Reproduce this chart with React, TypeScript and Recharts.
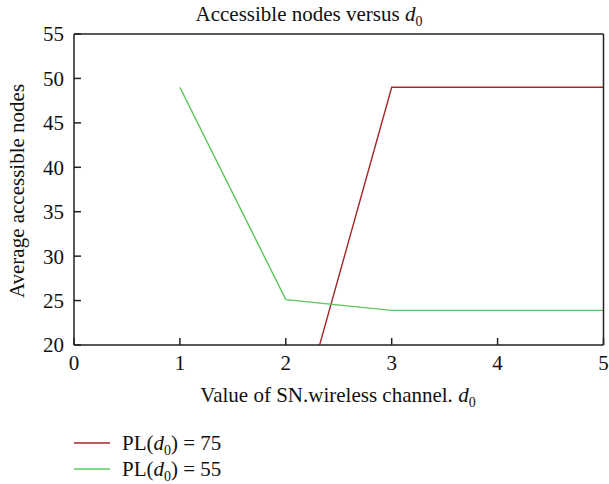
import React from 'react';
import { LineChart, Line, XAxis, YAxis } from 'recharts';

const xValues = [0, 1, 2, 3, 4, 5];
const pl75 = [null, null, 6.4, 49, 49, 49];
const pl55 = [null, 49, 25.1, 23.9, 23.9, 23.9];
const xTicks = [0, 1, 2, 3, 4, 5];
const yTicks = [20, 25, 30, 35, 40, 45, 50, 55];
const seriesNames = ['PL (d0) = 75', 'PL (d0) = 55'];
const seriesValues = ['75', '55'];
const colors = ['#a3262b', '#5cc85c'];

const data = xValues.map((x, i) => ({ x, pl75: pl75[i], pl55: pl55[i] }));

const FONT = '"Liberation Serif", "Times New Roman", serif';
const AXIS = '#222';

const renderBottomTick = (props: any) => {
  const { x, y, payload } = props;
  return (
    <text
      key={`b-${payload.value}`}
      x={x}
      y={y}
      dy="0.71em"
      textAnchor="middle"
      fontSize={21}
      fill="#111"
      style={{ fontFamily: FONT }}
    >
      {payload.value}
    </text>
  );
};

const renderLeftTick = (props: any) => {
  const { x, y, payload } = props;
  return (
    <text
      key={`l-${payload.value}`}
      x={x}
      y={y}
      dy="0.355em"
      textAnchor="end"
      fontSize={21}
      fill="#111"
      style={{ fontFamily: FONT }}
    >
      {payload.value}
    </text>
  );
};

export default function App() {
  return (
    <div
      style={{
        position: 'absolute',
        left: 0,
        top: 0,
        width: 609,
        height: 484,
        background: '#fff',
        fontFamily: FONT,
      }}
    >
      <LineChart
        width={609}
        height={484}
        data={data}
        margin={{ top: 33, right: 4.5, left: 0, bottom: 0 }}
        style={{ fontFamily: FONT }}
      >
        <XAxis
          xAxisId="b"
          dataKey="x"
          type="number"
          domain={[0, 5]}
          ticks={xTicks}
          height={139}
          tickSize={-7}
          tickMargin={17}
          tick={renderBottomTick}
          axisLine={{ stroke: AXIS, strokeWidth: 1.5 }}
          tickLine={{ stroke: AXIS, strokeWidth: 1.5 }}
          interval={0}
        />
        <XAxis
          xAxisId="t"
          orientation="top"
          dataKey="x"
          type="number"
          domain={[0, 5]}
          ticks={xTicks}
          height={1}
          tickSize={-7}
          tick={false}
          axisLine={{ stroke: AXIS, strokeWidth: 1.5 }}
          tickLine={{ stroke: AXIS, strokeWidth: 1.5 }}
          interval={0}
        />
        <YAxis
          yAxisId="l"
          type="number"
          domain={[20, 55]}
          ticks={yTicks}
          allowDataOverflow
          width={74}
          tickSize={-7}
          tickMargin={17}
          tick={renderLeftTick}
          axisLine={{ stroke: AXIS, strokeWidth: 1.5 }}
          tickLine={{ stroke: AXIS, strokeWidth: 1.5 }}
          interval={0}
        />
        <YAxis
          yAxisId="r"
          orientation="right"
          type="number"
          domain={[20, 55]}
          ticks={yTicks}
          allowDataOverflow
          width={1}
          tickSize={-7}
          tick={false}
          axisLine={{ stroke: AXIS, strokeWidth: 1.5 }}
          tickLine={{ stroke: AXIS, strokeWidth: 1.5 }}
          interval={0}
        />
        <Line
          xAxisId="b"
          yAxisId="l"
          dataKey="pl75"
          name={seriesNames[0]}
          stroke={colors[0]}
          strokeWidth={1.4}
          dot={false}
          activeDot={false}
          isAnimationActive={false}
          connectNulls={false}
        />
        <Line
          xAxisId="b"
          yAxisId="l"
          dataKey="pl55"
          name={seriesNames[1]}
          stroke={colors[1]}
          strokeWidth={1.4}
          dot={false}
          activeDot={false}
          isAnimationActive={false}
          connectNulls={false}
        />
      </LineChart>
      <svg
        width={609}
        height={484}
        style={{ position: 'absolute', left: 0, top: 0, pointerEvents: 'none', fontFamily: FONT }}
        fill="#111"
      >
        <text x={309} y={21} fontSize={21} textAnchor="middle">
          Accessible nodes versus <tspan fontStyle="italic">d</tspan>
          <tspan fontSize={14} dy={5}>0</tspan>
        </text>
        <text x={338} y={402} fontSize={21} textAnchor="middle">
          Value of SN.wireless channel. <tspan fontStyle="italic">d</tspan>
          <tspan fontSize={14} dy={5}>0</tspan>
        </text>
        <text
          x={0}
          y={0}
          fontSize={21}
          textAnchor="middle"
          transform="translate(24,191) rotate(-90)"
        >
          Average accessible nodes
        </text>
        {seriesValues.map((v, i) => (
          <g key={v}>
            <line x1={74} x2={110} y1={443 + i * 26} y2={443 + i * 26} stroke={colors[i]} strokeWidth={1.4} />
            <text x={122} y={450 + i * 26} fontSize={21}>
              PL(<tspan fontStyle="italic">d</tspan>
              <tspan fontSize={14} dy={5}>0</tspan>
              <tspan dy={-5}>) = {v}</tspan>
            </text>
          </g>
        ))}
      </svg>
    </div>
  );
}
